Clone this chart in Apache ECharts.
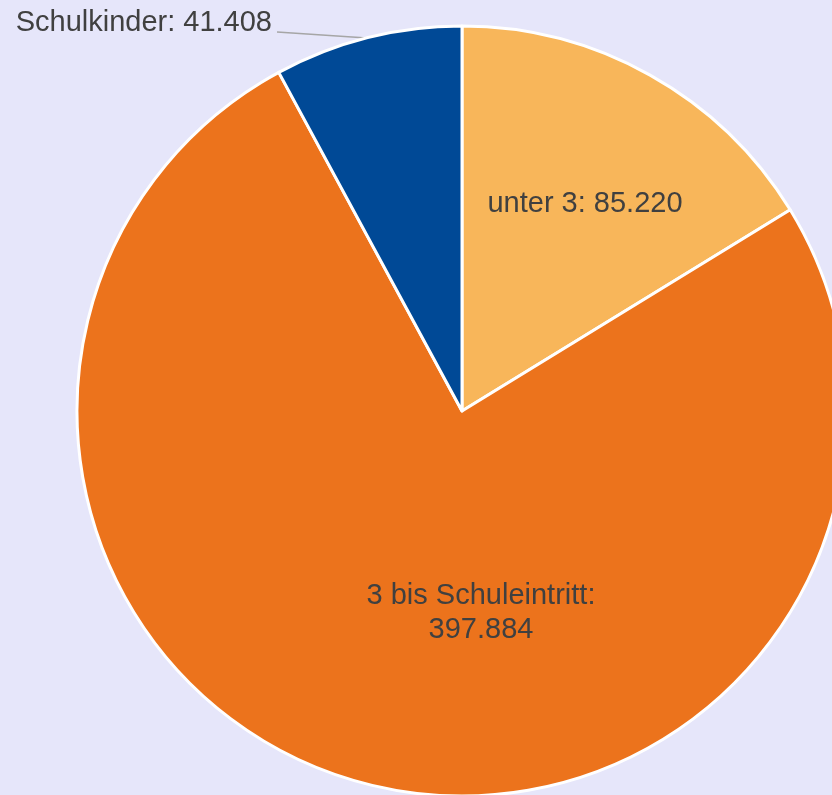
<!DOCTYPE html>
<html>
<head>
<meta charset="utf-8">
<script src="https://cdn.jsdelivr.net/npm/echarts@6/dist/echarts.min.js"></script>
<style>
  html, body { margin: 0; padding: 0; background: #e6e6fa; }
  #chart { width: 832px; height: 795px; }
</style>
</head>
<body>
<div id="chart"></div>
<script>
const categories = ['unter 3', '3 bis Schuleintritt', 'Schulkinder']
const values = [85220, 397884, 41408]
const colors = ['#f8b65a', '#ec731c', '#004996']

// German thousands separator
function de(n) {
  return String(n).replace(/\B(?=(\d{3})+(?!\d))/g, '.')
}

const chart = echarts.init(document.getElementById('chart'))

const textStyle = { color: '#404040', fontSize: 29, fontFamily: 'Liberation Sans, Arial, sans-serif' }

chart.setOption({
  backgroundColor: '#e6e6fa',
  animation: false,
  series: [{
    type: 'pie',
    center: [462, 411],
    radius: 385,
    startAngle: 90,
    clockwise: true,
    itemStyle: { borderColor: '#fff', borderWidth: 3 },
    label: { ...textStyle, position: 'inside', lineHeight: 34 },
    labelLine: { show: false },
    data: categories.map((name, i) => {
      const item = { name, value: values[i], itemStyle: { color: colors[i] } }
      if (i === 1) item.label = { formatter: p => p.name + ':\n' + de(p.value) }
      else item.label = { formatter: p => p.name + ': ' + de(p.value) }
      if (i === 2) {
        item.label.position = 'outside'
        item.labelLine = { show: true, lineStyle: { color: '#a6a6a6', width: 1.5 } }
      }
      return item
    }),
    labelLayout: function (p) {
      if (p.dataIndex === 0) return { x: 585, y: 204, align: 'center', verticalAlign: 'middle' }
      if (p.dataIndex === 1) return { x: 481, y: 613, align: 'center', verticalAlign: 'middle' }
      return {
        x: 272, y: 23, align: 'right', verticalAlign: 'middle',
        labelLinePoints: [[367, 38], [277, 32], [277, 32]]
      }
    }
  }]
})
</script>
</body>
</html>
